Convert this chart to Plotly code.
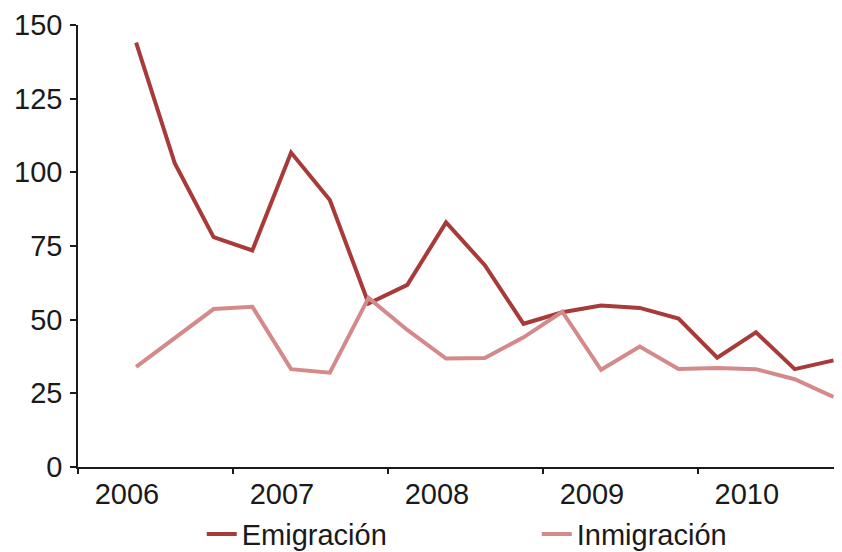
import plotly.graph_objects as go

# quarterly series, 2006 Q2 .. 2010 Q4 (as plotted)
quarters = [2006.375 + 0.25 * i for i in range(19)]
emigracion = [144, 103, 78, 73.5, 106.7, 90.6, 55.5, 61.8, 83, 68.5,
              48.6, 52.5, 54.8, 54, 50.4, 37.1, 45.7, 33.2, 36.2]
inmigracion = [34, 43.6, 53.6, 54.4, 33.2, 32, 57.4, 46.5, 36.8, 37,
               44, 52.7, 33, 40.9, 33.3, 33.6, 33.2, 29.8, 23.8]

year_labels = ["2006", "2007", "2008", "2009", "2010"]
year_label_pos = [2006.316, 2007.316, 2008.316, 2009.316, 2010.316]
year_bounds = [2006, 2007, 2008, 2009, 2010]

DARK = "#a83a3a"
LIGHT = "#d48a8b"
FONT = "Liberation Sans, Arial, sans-serif"

fig = go.Figure()
fig.add_scatter(x=quarters, y=emigracion, name="Emigración", mode="lines",
                line=dict(color=DARK, width=4))
fig.add_scatter(x=quarters, y=inmigracion, name="Inmigración", mode="lines",
                line=dict(color=LIGHT, width=4))

# page body keeps its default 8px margin, so the figure is sized to fit after it
fig.update_layout(
    width=834,
    height=544,
    margin=dict(l=70, r=0, t=17, b=85, autoexpand=False),
    paper_bgcolor="white",
    plot_bgcolor="white",
    font=dict(family=FONT, size=29, color="#1a1a1a"),
    showlegend=True,
    legend=dict(
        orientation="h",
        x=0.162,
        xanchor="left",
        y=-0.152,
        yanchor="middle",
        entrywidth=290,
        font=dict(size=29),
        bgcolor="rgba(0,0,0,0)",
    ),
)

fig.update_xaxes(
    range=[2006, 2010.93],
    showgrid=False,
    zeroline=False,
    showline=True,
    linecolor="#1a1a1a",
    linewidth=1.5,
    tickmode="array",
    tickvals=year_label_pos,
    ticktext=year_labels,
    ticks="",
    ticklabelstandoff=0,
    minor=dict(tickmode="array", tickvals=year_bounds, ticks="outside",
               ticklen=5, tickwidth=1.5, tickcolor="#1a1a1a"),
)
fig.update_yaxes(
    range=[0, 150],
    tickvals=[0, 25, 50, 75, 100, 125, 150],
    showgrid=False,
    zeroline=False,
    showline=True,
    linecolor="#1a1a1a",
    linewidth=1.5,
    ticks="outside",
    ticklen=6,
    tickwidth=1.5,
    tickcolor="#1a1a1a",
    ticklabelstandoff=2,
)

fig.write_html("out.html")
